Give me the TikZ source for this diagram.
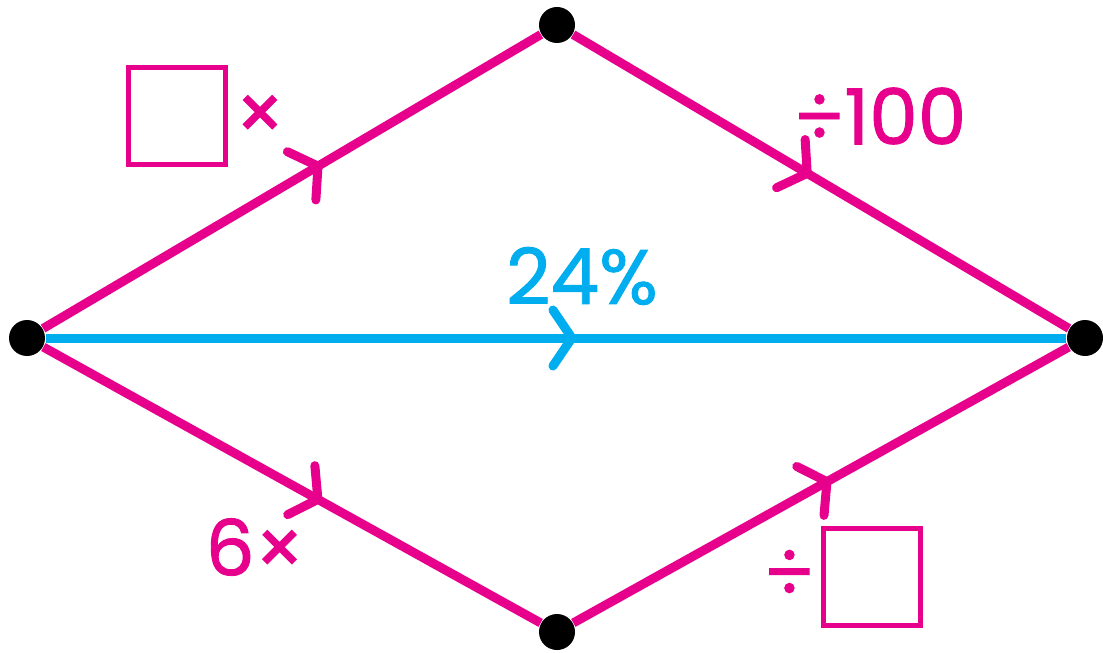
\documentclass[tikz,border=0pt]{standalone}
\usepackage{fontspec}
\setmainfont{Poppins}
\newfontfamily\handfont{Poppins}[FakeBold=1.2]
\usetikzlibrary{arrows.meta,decorations.markings}
\definecolor{pinkline}{HTML}{E6008C}
\definecolor{blueline}{HTML}{00AEEF}
\tikzset{
  dot/.style={circle,fill=black,inner sep=0pt,minimum size=0.36cm},
  midarrow/.style={postaction={decorate},decoration={markings,
      mark=at position #1 with {\arrow[line width=0.09cm]{Straight Barb[length=1.9mm,width=5.6mm,round]}}}},
  path/.style={line width=0.09cm},
  lbl/.style={font=\handfont\fontsize{22}{26}\selectfont},
  blank/.style={draw=pinkline,line width=0.05cm,minimum size=0.97cm,inner sep=0pt}
}
\begin{document}
\begin{tikzpicture}
    \useasboundingbox (0,0) rectangle (11.03,6.52);
    % Corner points
    \node[dot] (L) at (0.27,3.14) {};
    \node[dot] (T) at (5.57,6.27) {};
    \node[dot] (R) at (10.85,3.14) {};
    \node[dot] (B) at (5.57,0.20) {};
    % Upper route
    \draw[path,pinkline,midarrow=0.56] (L) -- (T);
    \draw[path,pinkline,midarrow=0.48] (T) -- (R);
    % Lower route
    \draw[path,pinkline,midarrow=0.56] (L) -- (B);
    \draw[path,pinkline,midarrow=0.52] (B) -- (R);
    % Direct route
    \draw[path,blueline,midarrow=0.52] (L) -- (R);
    % Labels
    \node[blank] (box1) at (1.77,5.36) {};
    \node[lbl,pinkline] (times1) at (2.60,5.34) {×};
    \node[lbl,pinkline] (div100) at (8.80,5.36) {÷100};
    \node[lbl,blueline] (pct) at (5.82,3.76) {24\%};
    \node[lbl,pinkline] (six) at (2.55,1.05) {6×};
    \node[lbl,pinkline] (div2) at (7.89,0.77) {÷};
    \node[blank] (box2) at (8.72,0.75) {};
\end{tikzpicture}
\end{document}
